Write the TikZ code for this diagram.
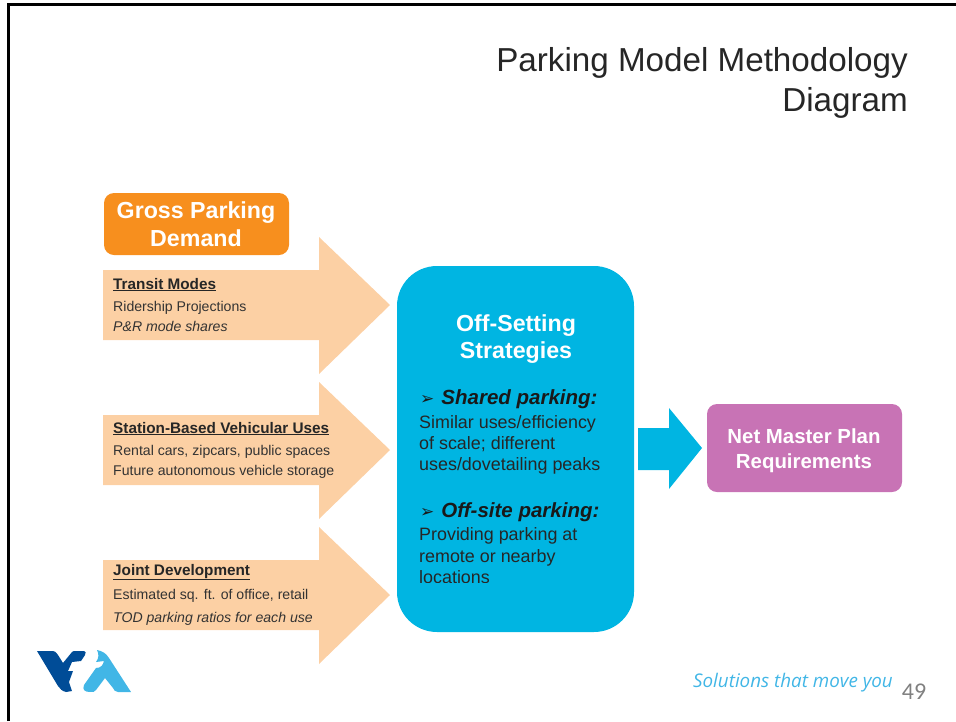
\documentclass[tikz,border=0pt]{standalone}
\usepackage{fontspec}
\setmainfont{Liberation Sans}
\newfontfamily\footfont{Carlito}
\newfontfamily\tagfont{Open Sans}
\newfontfamily\dingfont{DejaVu Sans}
\usetikzlibrary{positioning}
\definecolor{peach}{HTML}{FCD0A4}
\definecolor{orangebox}{HTML}{F78F1E}
\definecolor{bluebox}{HTML}{00B5E2}
\definecolor{pinkbox}{HTML}{C873B5}
\definecolor{vtadark}{HTML}{004C97}
\definecolor{vtalight}{HTML}{41B6E6}
\tikzset{
  every node/.style={inner sep=0pt},
  whitehead/.style={font=\fontsize{23.2}{27.5}\selectfont\bfseries, text=white, align=center},
  itemhead/.style={anchor=base west, font=\fontsize{15.3}{16}\selectfont\bfseries, text=black!85},
  itemtext/.style={anchor=base west, font=\fontsize{14.1}{16}\selectfont, text=black!80},
  stratline/.style={anchor=base west, font=\fontsize{17.9}{22}\selectfont, text=black!85},
  strathead/.style={anchor=base west, font=\fontsize{20.5}{24}\selectfont\bfseries\itshape, text=black!90},
  titleline/.style={anchor=base east, font=\fontsize{33.2}{40}\selectfont, text=black!85},
}
\newcommand{\bigarrow}[1]{%
  \fill[peach] (103, #1-35) -- (319, #1-35) -- (319, #1-68) -- (390, #1) -- (319, #1+69) -- (319, #1+35) -- (103, #1+35) -- cycle;
}
\newcommand{\ding}{{\dingfont\fontsize{17}{17}\selectfont\symbol{"27A2}}\hspace{7pt}}
\begin{document}
\begin{tikzpicture}[x=1pt, y=-1pt]
      \useasboundingbox (0, 0) rectangle (956, 721);
      \draw[line width=3pt] (8, 721) -- (8, 4.5) -- (956, 4.5);
      \node (titleA) at (908, 71) [titleline] {Parking Model Methodology};
      \node (titleB) at (908, 111) [titleline] {Diagram};
      % left arrows
      \bigarrow{305}
      \bigarrow{450}
      \bigarrow{595}
      \draw[fill=orangebox, draw=none, rounded corners=10pt] (104, 193) rectangle (289, 255);
      \node (gross) at (196, 224) [whitehead] {Gross Parking\\Demand};
      \node (transit) at (113, 289) [itemhead] {\underline{Transit Modes}};
      \node (rider) at (113, 311) [itemtext] {Ridership Projections};
      \node (modes) at (113, 331) [itemtext] {\itshape P\&R mode shares};
      \node (station) at (113, 433) [itemhead] {\underline{Station-Based Vehicular Uses}};
      \node (rental) at (113, 455) [itemtext] {Rental cars, zipcars, public spaces};
      \node (future) at (113, 475) [itemtext] {Future autonomous vehicle storage};
      \node (joint) at (113, 575) [itemhead] {\underline{Joint Development}};
      \node (office) at (113, 599) [itemtext] {Estimated sq. ft. of office, retail};
      \node (ratios) at (113, 622) [itemtext] {\itshape TOD parking ratios for each use};
      % middle box
      \draw[fill=bluebox, draw=none, rounded corners=40pt] (397, 266) rectangle (634, 632);
      \node (offset) at (516, 339) [whitehead] {Off-Setting\\Strategies};
      \node (shared) at (420, 404) [strathead] {\ding Shared parking:};
      \node (simA) at (419, 428) [stratline] {Similar uses/efficiency};
      \node (simB) at (419, 449) [stratline] {of scale; different};
      \node (simC) at (419, 470) [stratline] {uses/dovetailing peaks};
      \node (offsite) at (420, 517) [strathead] {\ding Off-site parking:};
      \node (provA) at (419, 540) [stratline] {Providing parking at};
      \node (provB) at (419, 562) [stratline] {remote or nearby};
      \begin{scope}
        \clip (400, 566) rectangle (630, 582);
        \node (provC) at (419, 583) [stratline] {locations};
      \end{scope}
      % right arrow
      \fill[bluebox] (638, 428) -- (669, 428) -- (669, 408) -- (702, 448) -- (669, 489) -- (669, 470) -- (638, 470) -- cycle;
      \draw[fill=pinkbox, draw=none, rounded corners=10pt] (707, 404) rectangle (902, 492);
      \node (net) at (804, 451) [whitehead, font=\fontsize{20.4}{25}\selectfont\bfseries] {Net Master Plan\\Requirements};
      % logo
      \fill[vtadark] (37, 651) -- (53, 651) .. controls (56, 651) and (58, 655) .. (63, 663) -- (72, 652) .. controls (73, 651) and (74, 651) .. (76, 651) -- (84, 651) .. controls (86, 651) and (86, 653) .. (85, 655) -- (81, 661) -- (72, 662) -- (68, 671) -- (73, 671) -- (69, 682) -- (72, 691) -- (66, 692) .. controls (62, 691) and (60, 689) .. (58, 686) -- cycle;
      \fill[vtalight] (97, 650) .. controls (102, 651) and (106, 653) .. (109, 658) -- (131, 692) -- (118, 692) .. controls (115, 692) and (114, 690) .. (113, 688) -- (105, 678) -- (96, 690) .. controls (95, 692) and (93, 692) .. (90, 692) .. controls (85, 692) and (82, 690) .. (84, 685) -- (96, 668) .. controls (101, 668) and (103, 665) .. (104, 661) -- (96, 662) .. controls (99, 658) and (99, 654) .. cycle;
      % footer
      \node (tagline) at (793, 683) [font=\fontsize{18.8}{20}\selectfont\itshape\tagfont, text=vtalight] {Solutions that move you};
      \node (page) at (914, 692) [font=\fontsize{24}{26}\selectfont\footfont, text=black!50] {49};
    \end{tikzpicture}
\end{document}
